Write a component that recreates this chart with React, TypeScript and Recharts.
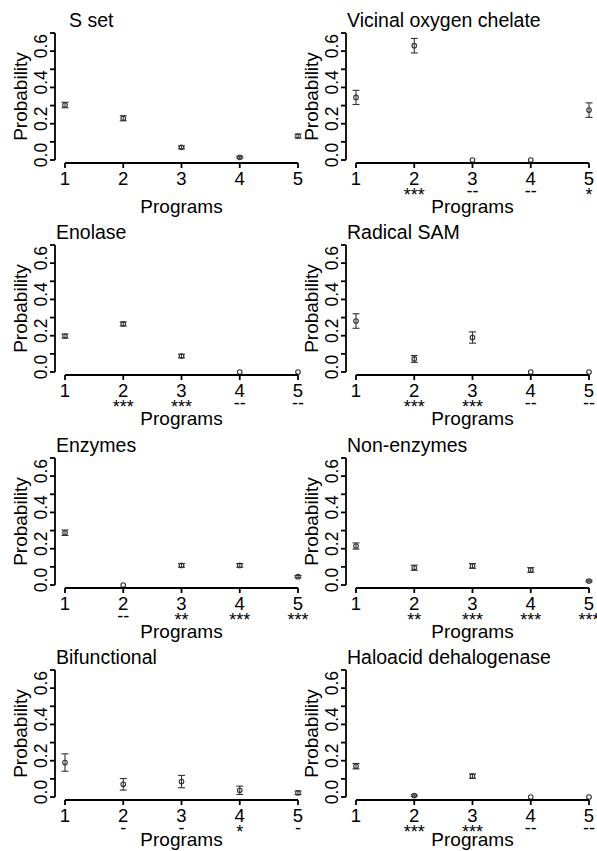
import { ScatterChart, Scatter, XAxis, YAxis, ErrorBar } from 'recharts'

const programs = [1, 2, 3, 4, 5]
const yTicks = [0, 0.1, 0.2, 0.3, 0.4, 0.5, 0.6, 0.7]
const yTickLabels = ['0.0', '', '0.2', '', '0.4', '', '0.6', '']

const sSetProb = [0.303, 0.23, 0.07, 0.015, 0.132]
const sSetErr = [0.015, 0.014, 0.008, 0.005, 0.011]
const sSetSig = ['', '', '', '', '']

const vicinalProb = [0.345, 0.63, 0, 0, 0.275]
const vicinalErr = [0.039, 0.04, 0, 0, 0.04]
const vicinalSig = ['', '***', '--', '--', '*']

const enolaseProb = [0.198, 0.265, 0.088, 0, 0]
const enolaseErr = [0.011, 0.011, 0.01, 0, 0]
const enolaseSig = ['', '***', '***', '--', '--']

const radicalSamProb = [0.281, 0.072, 0.19, 0, 0]
const radicalSamErr = [0.04, 0.019, 0.031, 0, 0]
const radicalSamSig = ['', '***', '***', '--', '--']

const enzymesProb = [0.288, 0, 0.108, 0.108, 0.046]
const enzymesErr = [0.015, 0, 0.01, 0.01, 0.006]
const enzymesSig = ['', '--', '**', '***', '***']

const nonEnzymesProb = [0.215, 0.095, 0.105, 0.083, 0.022]
const nonEnzymesErr = [0.017, 0.014, 0.013, 0.013, 0.005]
const nonEnzymesSig = ['', '**', '***', '***', '***']

const bifunctionalProb = [0.19, 0.07, 0.085, 0.037, 0.023]
const bifunctionalErr = [0.048, 0.032, 0.034, 0.023, 0.01]
const bifunctionalSig = ['', '-', '-', '*', '-']

const haloacidProb = [0.17, 0.008, 0.115, 0, 0]
const haloacidErr = [0.015, 0.004, 0.012, 0, 0]
const haloacidSig = ['', '***', '***', '--', '--']

const panels = [
  { title: 'S set', prob: sSetProb, err: sSetErr, sig: sSetSig },
  { title: 'Vicinal oxygen chelate', prob: vicinalProb, err: vicinalErr, sig: vicinalSig },
  { title: 'Enolase', prob: enolaseProb, err: enolaseErr, sig: enolaseSig },
  { title: 'Radical SAM', prob: radicalSamProb, err: radicalSamErr, sig: radicalSamSig },
  { title: 'Enzymes', prob: enzymesProb, err: enzymesErr, sig: enzymesSig },
  { title: 'Non-enzymes', prob: nonEnzymesProb, err: nonEnzymesErr, sig: nonEnzymesSig },
  { title: 'Bifunctional', prob: bifunctionalProb, err: bifunctionalErr, sig: bifunctionalSig },
  { title: 'Haloacid dehalogenase', prob: haloacidProb, err: haloacidErr, sig: haloacidSig },
]

const FONT = '"Liberation Sans", Arial, sans-serif'
const CHART_W = 310
const CHART_H = 232
const PLOT_LEFT = 65
const PLOT_TOP = 33
const PLOT_W = 233
const PLOT_H = 127
const X_AXIS_H = CHART_H - PLOT_TOP - PLOT_H
const COL_STEP = 291
const ROW_STEP = 212.3

function YTick(props: any) {
  const { x, y, payload, title, titleIndent } = props
  const ax = x - 10
  const i = yTicks.indexOf(payload.value)
  const label = yTickLabels[i]
  const lx = ax - 8
  const ly = y - 5
  return (
    <g>
      <line x1={ax - 5} x2={ax} y1={y} y2={y} stroke="#000" strokeWidth={1.8} />
      {label && (
        <text
          x={lx}
          y={ly}
          transform={`rotate(-90 ${lx} ${ly})`}
          textAnchor="middle"
          fontSize={17.5}
          fontFamily={FONT}
          fill="#000"
        >
          {label}
        </text>
      )}
      {payload.value === 0 && (
        <g>
          <line x1={ax} x2={ax} y1={y} y2={y - PLOT_H} stroke="#000" strokeWidth={1.8} />
          <text
            x={ax - 28}
            y={y - PLOT_H / 2}
            transform={`rotate(-90 ${ax - 28} ${y - PLOT_H / 2})`}
            textAnchor="middle"
            fontSize={19}
            fontFamily={FONT}
            fill="#000"
          >
            Probability
          </text>
          <text x={ax + titleIndent} y={y - PLOT_H - 6} fontSize={19.5} fontFamily={FONT} fill="#000">
            {title}
          </text>
        </g>
      )}
    </g>
  )
}

function XTick(props: any) {
  const { x, y, payload, sig, labelGap } = props
  const ly = y + 3
  const s = sig[payload.value - 1]
  return (
    <g>
      <line x1={x} x2={x} y1={ly} y2={ly + 5} stroke="#000" strokeWidth={1.8} />
      {payload.value === 1 && (
        <line x1={x} x2={x + PLOT_W} y1={ly} y2={ly} stroke="#000" strokeWidth={1.8} />
      )}
      <text x={x} y={y + 25} textAnchor="middle" fontSize={18.5} fontFamily={FONT} fill="#000">
        {payload.value}
      </text>
      {s && (
        <text
          x={x}
          y={y + (s.includes('*') ? 41 : 37)}
          textAnchor="middle"
          fontSize={18}
          fontFamily={FONT}
          fill="#000"
        >
          {s}
        </text>
      )}
      {payload.value === 1 && (
        <text x={x + PLOT_W / 2} y={y + labelGap} textAnchor="middle" fontSize={19} fontFamily={FONT} fill="#000">
          Programs
        </text>
      )}
    </g>
  )
}

const dot = (p: any) => (
  <circle cx={p.cx} cy={p.cy} r={2.3} fill="none" stroke="#333" strokeWidth={1.1} />
)

function Panel({ index }: { index: number }) {
  const panel = panels[index]
  const row = Math.floor(index / 2)
  const col = index % 2
  const data = programs.map((p, i) => ({ x: p, y: panel.prob[i], err: panel.err[i] }))
  return (
    <div style={{ position: 'absolute', left: col * COL_STEP, top: row * ROW_STEP }}>
      <ScatterChart
        width={CHART_W}
        height={CHART_H}
        margin={{ top: PLOT_TOP, right: CHART_W - PLOT_LEFT - PLOT_W, bottom: 0, left: 0 }}
      >
        <XAxis
          dataKey="x"
          type="number"
          domain={[1, 5]}
          ticks={programs}
          interval={0}
          height={X_AXIS_H}
          axisLine={false}
          tickLine={false}
          tickSize={0}
          tickMargin={0}
          tick={(p: any) => <XTick {...p} sig={panel.sig} labelGap={row === 3 ? 49 : 53} />}
        />
        <YAxis
          dataKey="y"
          type="number"
          domain={[0, 0.7]}
          ticks={yTicks}
          interval={0}
          width={PLOT_LEFT}
          axisLine={false}
          tickLine={false}
          tickSize={0}
          tickMargin={0}
          tick={(p: any) => <YTick {...p} title={panel.title} titleIndent={index === 0 ? 14 : 1} />}
        />
        <Scatter data={data} dataKey="y" shape={dot} isAnimationActive={false}>
          <ErrorBar dataKey="err" direction="y" width={3.5} stroke="#333" strokeWidth={1.1} />
        </Scatter>
      </ScatterChart>
    </div>
  )
}

export default function App() {
  return (
    <div
      style={{
        position: 'absolute',
        left: 0,
        top: 0,
        width: 597,
        height: 851,
        background: '#fff',
        fontFamily: FONT,
        overflow: 'hidden',
      }}
    >
      {panels.map((_, i) => (
        <Panel key={i} index={i} />
      ))}
    </div>
  )
}
